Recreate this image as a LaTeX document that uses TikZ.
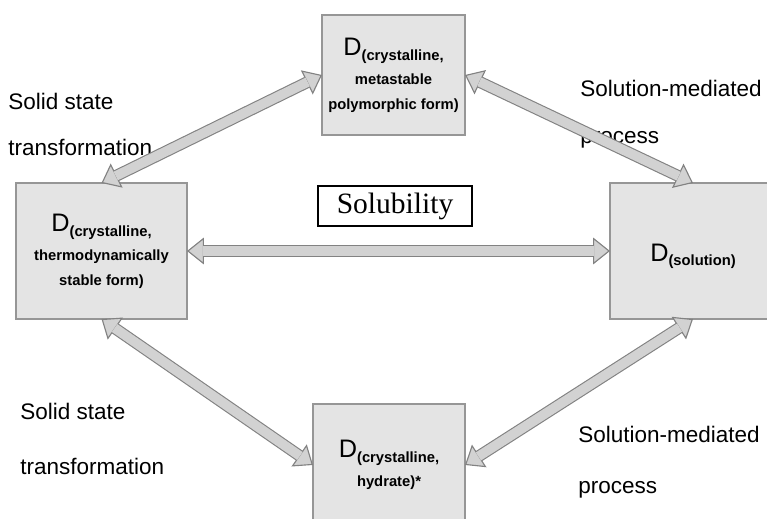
\documentclass[tikz,border=0pt]{standalone}
\usepackage{fontspec}
\usepackage{xcolor}
\setmainfont{Liberation Sans}
\newfontfamily\serifface{Liberation Serif}
\usetikzlibrary{arrows.meta}
\definecolor{boxfill}{RGB}{228,228,228}
\definecolor{boxline}{RGB}{150,150,150}
\definecolor{arrowfill}{RGB}{210,210,210}
\definecolor{arrowline}{RGB}{130,130,130}
\newcommand{\Dform}[1]{\raisebox{3.5pt}{\fontsize{18}{18}\selectfont\mdseries D}#1}

\begin{document}
\begin{tikzpicture}[
    x=0.025cm, y=-0.025cm,
    statebox/.style={rectangle, draw=boxline, fill=boxfill, line width=1pt, inner sep=0pt, outer sep=0pt, align=center, font=\bfseries\fontsize{10.5}{17.5}\selectfont},
    lbl/.style={inner sep=0pt, anchor=west, align=left, font=\fontsize{16}{19}\selectfont},
    fatarrow/.style={line width=8.4pt, draw=arrowline, >={Triangle[width=19pt,length=12pt,fill=arrowfill,line width=0.8pt]}, <->,
        postaction={draw=arrowfill, line width=6.8pt, -, shorten >=11.3pt, shorten <=11.3pt}}
]
\clip (0,0) rectangle (767,518);

\node[statebox, minimum width=3.575cm, minimum height=3cm] (meta) at (393.5,75) {\Dform{(crystalline,}\\metastable\\polymorphic form)};
\node[statebox, minimum width=4.275cm, minimum height=3.4cm] (stable) at (101.5,251) {\Dform{(crystalline,}\\thermodynamically\\stable form)};
\node[statebox, minimum width=4.15cm, minimum height=3.4cm, text height=23.5pt] (solution) at (693,251) {\Dform{(solution)}};
\node[statebox, minimum width=3.8cm, minimum height=3.05cm] (hydrate) at (389,465) {\Dform{(crystalline,}\\hydrate)*};
\node[draw=black, fill=white, line width=0.8pt, inner sep=0pt, minimum width=3.85cm, minimum height=1cm, font=\serifface\fontsize{21}{21}\selectfont] (solub) at (395,206) {Solubility};

% transformation labels
\node[lbl] (sstTop) at (8,124) {Solid state\\[13.7pt]transformation};
\node[lbl] (smpTop) at (580,114) {Solution-mediated\\[14.5pt]process};
\node[lbl] (sstBot) at (20,439) {Solid state\\[20pt]transformation};
\node[lbl] (smpBot) at (578,462) {Solution-mediated\\[17pt]process};

\draw[fatarrow] (stable.north) -- (meta.west);
\draw[fatarrow] (meta.east) -- (solution.north);
\draw[fatarrow] (stable.east) -- (solution.west);
\draw[fatarrow] (stable.south) -- (hydrate.west);
\draw[fatarrow] (hydrate.east) -- (solution.south);

\end{tikzpicture}
\end{document}
